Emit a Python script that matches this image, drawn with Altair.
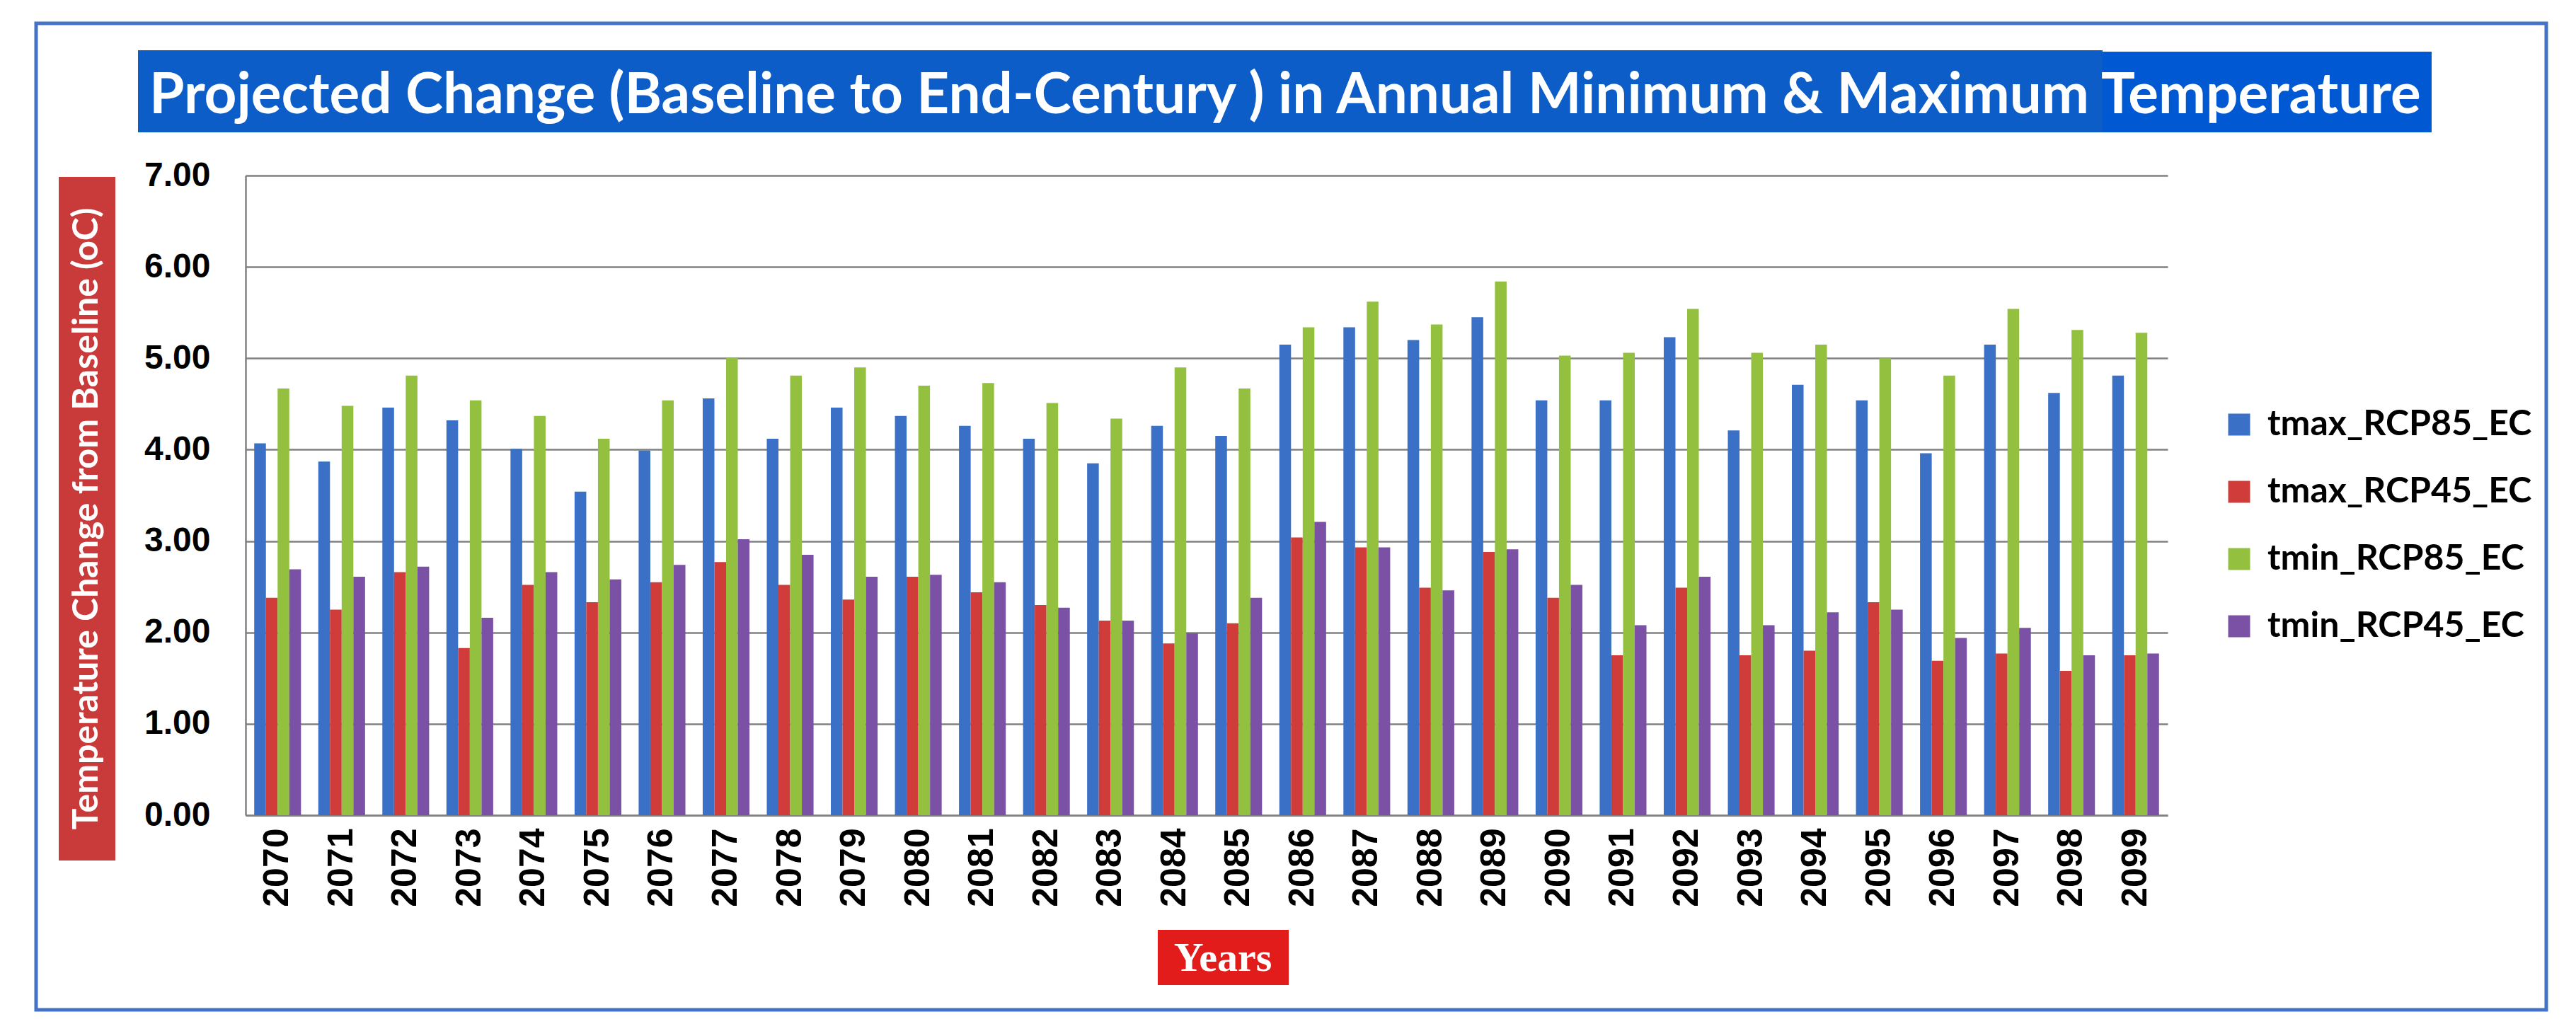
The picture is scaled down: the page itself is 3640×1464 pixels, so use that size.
import altair as alt
import pandas as pd

years = [str(y) for y in range(2070, 2100)]
series_names = ["tmax_RCP85_EC", "tmax_RCP45_EC", "tmin_RCP85_EC", "tmin_RCP45_EC"]
series_colors = ["#3A71C6", "#D03C3A", "#93C13F", "#7B51A6"]

tmax_rcp85 = [4.07, 3.87, 4.46, 4.32, 4.01, 3.54, 3.99, 4.56, 4.12, 4.46,
              4.37, 4.26, 4.12, 3.85, 4.26, 4.15, 5.15, 5.34, 5.20, 5.45,
              4.54, 4.54, 5.23, 4.21, 4.71, 4.54, 3.96, 5.15, 4.62, 4.81]
tmax_rcp45 = [2.38, 2.25, 2.66, 1.83, 2.52, 2.33, 2.55, 2.77, 2.52, 2.36,
              2.61, 2.44, 2.30, 2.13, 1.88, 2.10, 3.04, 2.93, 2.49, 2.88,
              2.38, 1.75, 2.49, 1.75, 1.80, 2.33, 1.69, 1.77, 1.58, 1.75]
tmin_rcp85 = [4.67, 4.48, 4.81, 4.54, 4.37, 4.12, 4.54, 5.01, 4.81, 4.90,
              4.70, 4.73, 4.51, 4.34, 4.90, 4.67, 5.34, 5.62, 5.37, 5.84,
              5.03, 5.06, 5.54, 5.06, 5.15, 5.00, 4.81, 5.54, 5.31, 5.28]
tmin_rcp45 = [2.69, 2.61, 2.72, 2.16, 2.66, 2.58, 2.74, 3.02, 2.85, 2.61,
              2.63, 2.55, 2.27, 2.13, 1.99, 2.38, 3.21, 2.93, 2.46, 2.91,
              2.52, 2.08, 2.61, 2.08, 2.22, 2.25, 1.94, 2.05, 1.75, 1.77]
y_ticks = [0, 1, 2, 3, 4, 5, 6, 7]

title_text = "Projected Change (Baseline to End-Century ) in Annual Minimum & Maximum Temperature"
y_title = "Temperature Change from Baseline (oC)"
x_title = "Years"

rows = []
for name, vals in zip(series_names, [tmax_rcp85, tmax_rcp45, tmin_rcp85, tmin_rcp45]):
    for yr, v in zip(years, vals):
        rows.append({"year": yr, "series": name, "value": v})
df = pd.DataFrame(rows)

W, H = 2716, 904
one = pd.DataFrame({"k": [0]})

bars = alt.Chart(df).mark_bar().encode(
    x=alt.X("year:N", sort=years,
            scale=alt.Scale(paddingInner=0.27, paddingOuter=0.135),
            axis=alt.Axis(title=None, labelAngle=270, labelFont="Liberation Sans",
                          labelFontWeight="bold", labelFontSize=50, labelColor="black",
                          labelPadding=18, ticks=False, grid=False,
                          domainColor="#808080", domainWidth=2.5)),
    xOffset=alt.XOffset("series:N", sort=series_names,
                        scale=alt.Scale(paddingInner=0, paddingOuter=0)),
    y=alt.Y("value:Q", scale=alt.Scale(domain=[0, 7], nice=False),
            axis=alt.Axis(title=None, values=y_ticks, format=".2f",
                          labelFont="Liberation Sans", labelFontWeight="bold",
                          labelFontSize=48, labelColor="black", labelPadding=50,
                          ticks=False, grid=True, gridColor="#808080", gridWidth=2.5,
                          domainColor="#808080", domainWidth=2.5)),
    color=alt.Color("series:N", sort=series_names,
                    scale=alt.Scale(domain=series_names, range=series_colors),
                    legend=alt.Legend(title=None, orient="none", legendX=2792, legendY=327,
                                      symbolType="square", symbolSize=961,
                                      symbolStrokeWidth=0, labelFont="Lato",
                                      labelFontWeight="bold", labelFontSize=50,
                                      labelColor="black", labelOffset=15, labelLimit=0,
                                      rowPadding=45, padding=0)),
)

border = alt.Chart(one).mark_rect(filled=False, stroke="#4472C4", strokeWidth=5).encode(
    x=alt.value(-296), x2=alt.value(3251), y=alt.value(-215), y2=alt.value(1179))

banner1 = alt.Chart(one).mark_rect(color="#0D5DC8").encode(
    x=alt.value(-152), x2=alt.value(2624), y=alt.value(-177), y2=alt.value(-61))
banner2 = alt.Chart(one).mark_rect(color="#0058D2").encode(
    x=alt.value(2624), x2=alt.value(3089), y=alt.value(-175), y2=alt.value(-61))
title = alt.Chart(one).mark_text(font="Lato", fontWeight="bold", fontSize=80,
                                 color="white", align="left", baseline="alphabetic").encode(
    x=alt.value(-136), y=alt.value(-88), text=alt.value(title_text))

ybox = alt.Chart(one).mark_rect(color="#C93B3B").encode(
    x=alt.value(-264), x2=alt.value(-184), y=alt.value(2), y2=alt.value(968))
ytext = alt.Chart(one).mark_text(font="Lato", fontWeight="bold", fontSize=50,
                                 color="white", angle=270, align="center",
                                 baseline="middle").encode(
    x=alt.value(-224), y=alt.value(485), text=alt.value(y_title))

xbox = alt.Chart(one).mark_rect(color="#E21B1B").encode(
    x=alt.value(1289), x2=alt.value(1474), y=alt.value(1066), y2=alt.value(1144))
xtext = alt.Chart(one).mark_text(font="Liberation Serif", fontWeight="bold", fontSize=58,
                                 color="white", align="center", baseline="middle").encode(
    x=alt.value(1381), y=alt.value(1107), text=alt.value(x_title))

chart = alt.layer(border, banner1, banner2, title, ybox, ytext, xbox, xtext, bars).properties(
    width=W, height=H,
    autosize=alt.AutoSizeParams(type="none"),
    padding={"left": 339, "top": 240, "right": 560, "bottom": 290},
    background="white",
).configure_view(stroke=None)

chart.save("out.html", embed_options={"renderer": "svg", "actions": False})
